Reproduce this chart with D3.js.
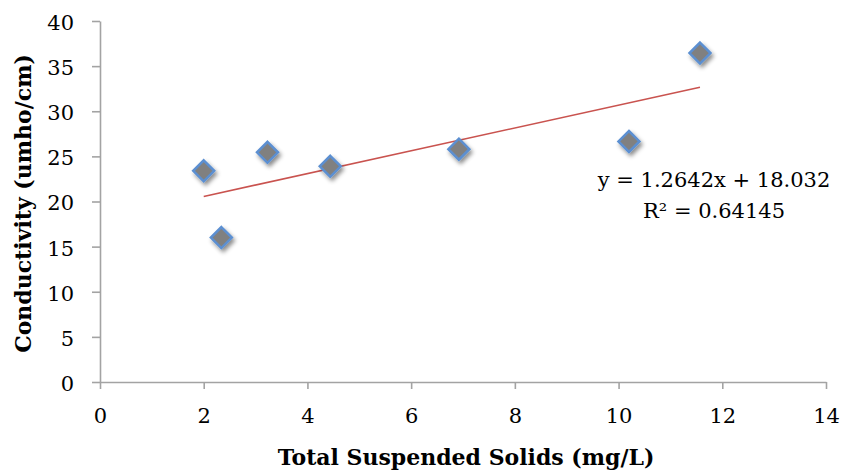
<!DOCTYPE html>
<html>
<head>
<meta charset="utf-8">
<script src="https://cdn.jsdelivr.net/npm/d3@7"></script>
<style>
  body { margin: 0; background: #fff; }
  svg { display: block; }
</style>
</head>
<body>
<svg id="chart" width="849" height="474"></svg>
<script>
// data
const tss = [2.0, 2.34, 3.23, 4.44, 6.92, 10.2, 11.57];
const conductivity = [23.4, 16.0, 25.45, 23.9, 25.8, 26.65, 36.45];
const xTicks = [0, 2, 4, 6, 8, 10, 12, 14];
const yTicks = [0, 5, 10, 15, 20, 25, 30, 35, 40];
const slope = 1.2642;
const intercept = 18.032;
const r2 = 0.64145;

const width = 849, height = 474;
const margin = { top: 21, right: 23, bottom: 92, left: 100 };
const innerWidth = width - margin.left - margin.right;
const innerHeight = height - margin.top - margin.bottom;

const font = 'DejaVu Serif, serif';
const axisColor = '#a3a3a3';

const svg = d3.select('#chart');

const defs = svg.append('defs');
const shadow = defs.append('filter')
  .attr('id', 'shadow')
  .attr('x', '-50%').attr('y', '-50%')
  .attr('width', '200%').attr('height', '200%');
shadow.append('feDropShadow')
  .attr('dx', 2).attr('dy', 3)
  .attr('stdDeviation', 2)
  .attr('flood-color', '#000')
  .attr('flood-opacity', 0.45);

const x = d3.scaleLinear().domain([0, 14]).range([0, innerWidth]);
const y = d3.scaleLinear().domain([0, 40]).range([innerHeight, 0]);

const g = svg.append('g')
  .attr('transform', `translate(${margin.left},${margin.top})`);

// X axis
g.append('g')
  .attr('transform', `translate(0,${innerHeight})`)
  .call(d3.axisBottom(x).tickValues(xTicks).tickSize(7).tickSizeOuter(0).tickPadding(19))
  .call(a => a.selectAll('line, path').attr('stroke', axisColor).attr('stroke-width', 1.6))
  .call(a => a.selectAll('text')
    .attr('font-family', font)
    .attr('font-size', 21)
    .attr('fill', '#000'));

// Y axis
g.append('g')
  .call(d3.axisLeft(y).tickValues(yTicks).tickSize(8).tickSizeOuter(0).tickPadding(18))
  .call(a => a.selectAll('line, path').attr('stroke', axisColor).attr('stroke-width', 1.6))
  .call(a => a.selectAll('text')
    .attr('font-family', font)
    .attr('font-size', 21)
    .attr('dy', '0.4em')
    .attr('fill', '#000'));

// Trendline
const xr = d3.extent(tss);
g.append('line')
  .attr('x1', x(xr[0]))
  .attr('y1', y(slope * xr[0] + intercept))
  .attr('x2', x(xr[1]))
  .attr('y2', y(slope * xr[1] + intercept))
  .attr('stroke', '#c9534f')
  .attr('stroke-width', 1.6);

// Points
const diamond = d3.symbol().type(d3.symbolDiamond2).size(280);
g.append('g')
  .selectAll('path')
  .data(tss)
  .join('path')
  .attr('d', diamond)
  .attr('transform', (d, i) => `translate(${x(d)},${y(conductivity[i])})`)
  .attr('fill', '#808080')
  .attr('stroke', '#5b8fd1')
  .attr('stroke-width', 2.5)
  .attr('filter', 'url(#shadow)');

// Equation label
const eq = g.append('g')
  .attr('font-family', font)
  .attr('font-size', 21)
  .attr('fill', '#000')
  .attr('text-anchor', 'middle');
eq.append('text')
  .attr('x', 614)
  .attr('y', 166)
  .text(`y = ${slope}x + ${intercept}`);
eq.append('text')
  .attr('x', 614)
  .attr('y', 197)
  .text(`R² = ${r2}`);

// Axis titles
svg.append('text')
  .attr('x', margin.left + innerWidth / 2 + 3)
  .attr('y', 465)
  .attr('text-anchor', 'middle')
  .attr('font-family', font)
  .attr('font-weight', 'bold')
  .attr('font-size', 22)
  .text('Total Suspended Solids (mg/L)');

svg.append('text')
  .attr('transform', `translate(31,${margin.top + innerHeight / 2 + 2}) rotate(-90)`)
  .attr('text-anchor', 'middle')
  .attr('font-family', font)
  .attr('font-weight', 'bold')
  .attr('font-size', 22)
  .text('Conductivity (umho/cm)');
</script>
</body>
</html>
